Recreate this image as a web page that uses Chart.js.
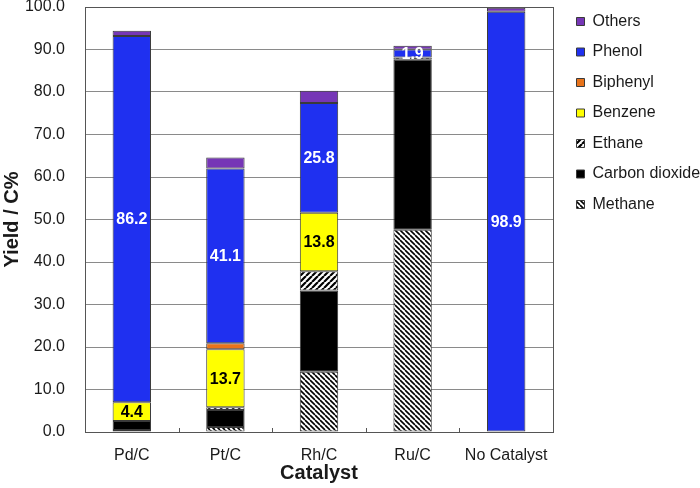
<!DOCTYPE html>
<html>
<head>
<meta charset="utf-8">
<script src="https://cdn.jsdelivr.net/npm/chart.js@4.4.1/dist/chart.umd.min.js"></script>
<style>
  html, body { margin: 0; padding: 0; background: #fff; }
  #wrap { width: 700px; height: 488px; }
</style>
</head>
<body>
<div id="wrap"><canvas id="yieldChart" width="700" height="488"></canvas></div>
<script>
// values (Yield / C%)
const catalysts = ["Pd/C", "Pt/C", "Rh/C", "Ru/C", "No Catalyst"];
const methane  = [0.5, 1.2, 14.2, 47.6, null];
const co2      = [2.1, 4.0, 19.1, 40.0, null];
const ethane   = [null, 0.6, 4.5, 0.5, null];
const benzene  = [4.4, 13.7, 13.8, null, null];
const biphenyl = [null, 1.4, null, null, null];
const phenol   = [86.2, 41.1, 25.8, 1.9, 98.9];
const others   = [1.2, 2.6, 2.9, 0.9, 0.9];
const yTicks   = [0, 10, 20, 30, 40, 50, 60, 70, 80, 90, 100];

const FONT = "Arial, 'Liberation Sans', sans-serif";

// diagonal hatch fills for the gas products
function hatch(ctx, dir, size, lw) {
  const c = document.createElement("canvas");
  c.width = c.height = size;
  const g = c.getContext("2d");
  g.fillStyle = "#fff";
  g.fillRect(0, 0, size, size);
  g.strokeStyle = "#000";
  g.lineWidth = lw;
  g.beginPath();
  for (const k of [-size, 0, size]) {
    if (dir === "back") { g.moveTo(k, 0); g.lineTo(k + size, size); }
    else { g.moveTo(k, size); g.lineTo(k + size, 0); }
  }
  g.stroke();
  return ctx.createPattern(c, "repeat");
}

// white/black numbers inside the phenol and benzene segments
const segmentLabels = {
  id: "segmentLabels",
  afterDatasetsDraw(chart) {
    const ctx = chart.ctx;
    ctx.save();
    ctx.font = "bold 16px " + FONT;
    ctx.textAlign = "center";
    ctx.textBaseline = "middle";
    chart.data.datasets.forEach((ds, di) => {
      if (!ds.valueColor) return;
      const meta = chart.getDatasetMeta(di);
      meta.data.forEach((bar, i) => {
        const v = ds.data[i];
        if (v == null) return;
        ctx.fillStyle = ds.valueColor;
        ctx.fillText(v.toFixed(1), bar.x, (bar.y + bar.base) / 2 + 1);
      });
    });
    ctx.restore();
  }
};

// plot frame and the small category ticks along the x axis
const frame = {
  id: "frame",
  afterDraw(chart) {
    const { ctx, chartArea: a } = chart;
    const x = chart.scales.x;
    ctx.save();
    ctx.strokeStyle = "#555";
    ctx.lineWidth = 1;
    ctx.strokeRect(a.left + 0.5, a.top + 0.5, a.right - a.left, a.bottom - a.top);
    ctx.beginPath();
    for (let i = 0; i < catalysts.length - 1; i++) {
      const bx = Math.round((x.getPixelForValue(i) + x.getPixelForValue(i + 1)) / 2) + 0.5;
      ctx.moveTo(bx, a.bottom);
      ctx.lineTo(bx, a.bottom - 4);
    }
    ctx.stroke();
    ctx.restore();
  }
};

// keep the legend narrow and pushed to the right edge
const legendPlace = {
  id: "legendPlace",
  beforeLayout(chart) {
    const lg = chart.legend;
    if (lg && !lg._narrow) {
      const fit = lg.fit;
      lg.fit = function () { fit.call(this); this.width = 147; };
      lg._narrow = true;
    }
  },
  afterLayout(chart) {
    const lg = chart.legend;
    lg.left += 9;
    lg.right = 720;
    lg.top = -1;
    lg.bottom = 488;
  }
};

const ctx = document.getElementById("yieldChart").getContext("2d");
const edge = "#3a3a3a";
function series(label, data, fill, extra) {
  return Object.assign({
    label, data,
    backgroundColor: fill,
    borderColor: edge,
    borderWidth: 1,
    borderSkipped: false,
  }, extra || {});
}

new Chart(ctx, {
  type: "bar",
  data: {
    labels: catalysts,
    datasets: [
      series("Methane", methane, hatch(ctx, "back", 5, 1.6)),
      series("Carbon dioxide", co2, "#000000"),
      series("Ethane", ethane, hatch(ctx, "fwd", 6, 2.2)),
      series("Benzene", benzene, "#ffff00", { valueColor: "#000" }),
      series("Biphenyl", biphenyl, "#e8731a"),
      series("Phenol", phenol, "#1f30f0", { valueColor: "#fff" }),
      series("Others", others, "#7636b6"),
    ],
  },
  options: {
    responsive: false,
    animation: false,
    devicePixelRatio: 1,
    layout: { padding: { top: 7, left: 0, right: 0, bottom: 0 } },
    datasets: { bar: { barPercentage: 0.41, categoryPercentage: 1 } },
    plugins: {
      tooltip: { enabled: false },
      legend: {
        position: "right",
        align: "start",
        reverse: true,
        labels: {
          boxWidth: 8,
          boxHeight: 8,
          padding: 14.5,
          color: "#1a1a1a",
          font: { family: FONT, size: 16 },
        },
      },
    },
    scales: {
      x: {
        stacked: true,
        grid: { display: false },
        border: { color: "#555" },
        ticks: { color: "#1a1a1a", font: { family: FONT, size: 16 }, padding: 6 },
        title: {
          display: true,
          text: "Catalyst",
          color: "#1a1a1a",
          font: { family: FONT, size: 20, weight: "bold" },
          padding: { top: 0, bottom: 3 },
        },
        afterFit(s) { s.height = 56; s.paddingLeft = 0; s.paddingRight = 0; },
      },
      y: {
        stacked: true,
        min: 0,
        max: 100,
        afterBuildTicks(s) { s.ticks = yTicks.map(v => ({ value: v })); },
        grid: { color: "#8a8a8a", drawTicks: false },
        border: { color: "#555" },
        ticks: {
          color: "#1a1a1a",
          font: { family: FONT, size: 16 },
          padding: 20,
          callback: v => Number(v).toFixed(1),
        },
        title: {
          display: true,
          text: "Yield / C%",
          color: "#1a1a1a",
          font: { family: FONT, size: 20, weight: "bold" },
          padding: { top: 0, bottom: 0 },
        },
        afterFit(s) { s.width = 85; s.paddingTop = 0; s.paddingBottom = 0; },
      },
    },
  },
  plugins: [segmentLabels, frame, legendPlace],
});
</script>
</body>
</html>
